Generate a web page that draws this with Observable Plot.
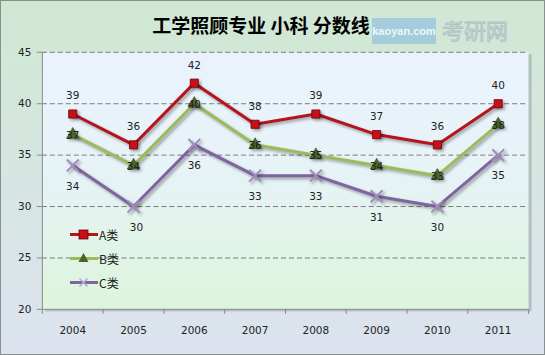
<!DOCTYPE html>
<html><head><meta charset="utf-8">
<script src="https://cdn.jsdelivr.net/npm/d3@7"></script>
<script src="https://cdn.jsdelivr.net/npm/@observablehq/plot@0.6"></script>
<style>
html,body{margin:0;padding:0;}
#wrap{position:relative;width:543px;height:353px;border:1px solid #8a9090;
 background:linear-gradient(to bottom,#cfe8d3 0%,#d6e6e0 45%,#dce3ef 100%);overflow:hidden;}
#title{position:absolute;left:0;width:520px;top:10px;text-align:center;font-family:"Noto Sans CJK SC";font-weight:bold;font-size:19px;color:#000;z-index:2;}
#wm{position:absolute;left:371px;top:17px;width:64px;height:26px;background:rgba(150,195,220,0.75);color:#eef7fb;font-family:"Liberation Sans";font-weight:bold;font-size:11px;line-height:26px;text-align:center;z-index:1;white-space:nowrap;}
#wm2{position:absolute;left:441px;top:12px;font-family:"Noto Sans CJK SC";font-size:22px;color:transparent;-webkit-text-stroke:1px #b4c0c4;z-index:1;}
#legend{position:absolute;left:68px;top:221px;font-family:"Noto Sans CJK SC";font-size:12px;color:#222;z-index:3;}
#legend div{height:24px;display:flex;align-items:center;}
svg.plot{position:absolute;left:0;top:0;}
</style></head><body>
<div id="wrap"><div id="title"></div><div id="wm">kaoyan.com</div><div id="wm2">考研网</div><div id="legend"></div></div>
<script>
const title = "工学照顾专业 小科 分数线";
const years = [2004, 2005, 2006, 2007, 2008, 2009, 2010, 2011];
const seriesNames = ["A类", "B类", "C类"];
const valuesA = [39, 36, 42, 38, 39, 37, 36, 40];
const valuesB = [37, 34, 40, 36, 35, 34, 33, 38];
const valuesC = [34, 30, 36, 33, 33, 31, 30, 35];
const yTicks = [20, 25, 30, 35, 40, 45];
const colors = ["#b5141c", "#9bbb59", "#8064a2"];
const markFill = ["#c8101a", "#4f6228", "#a08cc0"];
const symbols = ["square", "triangle", "times"];

document.getElementById("title").textContent = title;
const allVals = [valuesA, valuesB, valuesC];
const data = [];
allVals.forEach((vals, si) => vals.forEach((v, i) => data.push({series: seriesNames[si], year: years[i], value: v, idx: i})));
const bounds = [...years.map(y => y - 0.5), years[years.length - 1] + 0.5];
const A = data.filter(d => d.series === "A类");
const B = data.filter(d => d.series === "B类");
const C = data.filter(d => d.series === "C类");

const font = "DejaVu Sans";
const chart = Plot.plot({
  width: 545, height: 355,
  marginLeft: 41, marginRight: 16, marginTop: 51, marginBottom: 46,
  style: {background: "transparent", fontFamily: font, fontSize: "10.5px", color: "#222"},
  x: {type: "linear", domain: [bounds[0], bounds[bounds.length - 1]]},
  y: {domain: [20, 45]},
  color: {domain: seriesNames, range: colors},
  symbol: {domain: seriesNames, range: symbols},
  marks: [
    Plot.frame({fill: "#8a8f95", fillOpacity: 0.45, stroke: null, dx: 3, dy: 2}),
    Plot.frame({fill: "url(#pgrad)", stroke: null}),
    Plot.ruleY(yTicks.filter(t => t > 20), {stroke: "#7a7a7a", strokeDasharray: "5,3", strokeWidth: 1}),
    Plot.ruleX([bounds[0]], {stroke: "#8a8a8a"}),
    Plot.ruleY([20], {stroke: "#8a8a8a"}),
    Plot.axisY({ticks: yTicks, tickSize: 5, tickPadding: 6, stroke: "#8a8a8a", fill: "#222", label: null, tickFormat: d => String(d)}),
    Plot.axisX({ticks: bounds, tickSize: 5, tickFormat: () => "", stroke: "#8a8a8a", label: null}),
    Plot.axisX({ticks: years, tickSize: 0, tickPadding: 17, tickFormat: d => String(d), fill: "#222", label: null}),
    Plot.line(data, {x: "year", y: "value", z: "series", stroke: "series", strokeWidth: 3}),
    Plot.dot(A, {x: "year", y: "value", symbol: "series", r: 4.6, fill: markFill[0], stroke: "#700000", strokeWidth: 0.8}),
    Plot.dot(B, {x: "year", y: "value", symbol: "series", r: 4.6, fill: markFill[1], stroke: "#3c4a1e", strokeWidth: 0.6}),
    Plot.dot(C, {x: "year", y: "value", symbol: "series", r: 5.5, stroke: markFill[2], strokeWidth: 2}),
    Plot.text(A, {x: "year", y: "value", text: d => String(d.value), dy: -18, fill: "#222"}),
    Plot.text(B, {x: "year", y: "value", text: d => String(d.value), dy: 1, fill: "#222"}),
    Plot.text(C.filter(d => d.idx !== 1), {x: "year", y: "value", text: d => String(d.value), dy: 21, fill: "#222"}),
    Plot.text(C.filter(d => d.idx === 1), {x: "year", y: "value", text: d => String(d.value), dy: 21, dx: 3, fill: "#222"})
  ]
});
const svg = d3.select(chart);
const defs = svg.insert("defs", ":first-child");
const g = defs.append("linearGradient").attr("id", "pgrad").attr("x1", 0).attr("y1", 0).attr("x2", 0).attr("y2", 1);
g.append("stop").attr("offset", "0%").attr("stop-color", "#eaf3fd");
g.append("stop").attr("offset", "50%").attr("stop-color", "#e6f3f6");
g.append("stop").attr("offset", "100%").attr("stop-color", "#dcf5db");
svg.selectAll("g[aria-label=line] path, g[aria-label=dot] path").style("filter", "drop-shadow(2px 2px 1.5px rgba(0,0,0,0.35))");
document.getElementById("wrap").appendChild(chart);

// legend
const leg = document.getElementById("legend");
seriesNames.forEach((name, i) => {
  const row = document.createElement("div");
  const sym = symbols[i];
  let m = "";
  if (sym === "square") m = `<rect x="10" y="4" width="9" height="9" fill="${markFill[i]}" stroke="#700000" stroke-width="0.8"/>`;
  else if (sym === "triangle") m = `<path d="M14.5,3 L19.5,12 L9.5,12 Z" fill="${markFill[i]}"/>`;
  else m = `<path d="M10.5,4.5 L18.5,12.5 M18.5,4.5 L10.5,12.5" stroke="#b8a8d0" stroke-width="1.6"/>`;
  row.innerHTML = `<svg width="30" height="17" style="position:static"><line x1="1" x2="29" y1="8.5" y2="8.5" stroke="${colors[i]}" stroke-width="3"/>${m}</svg><span>${name}</span>`;
  leg.appendChild(row);
});
</script>
</body></html>
